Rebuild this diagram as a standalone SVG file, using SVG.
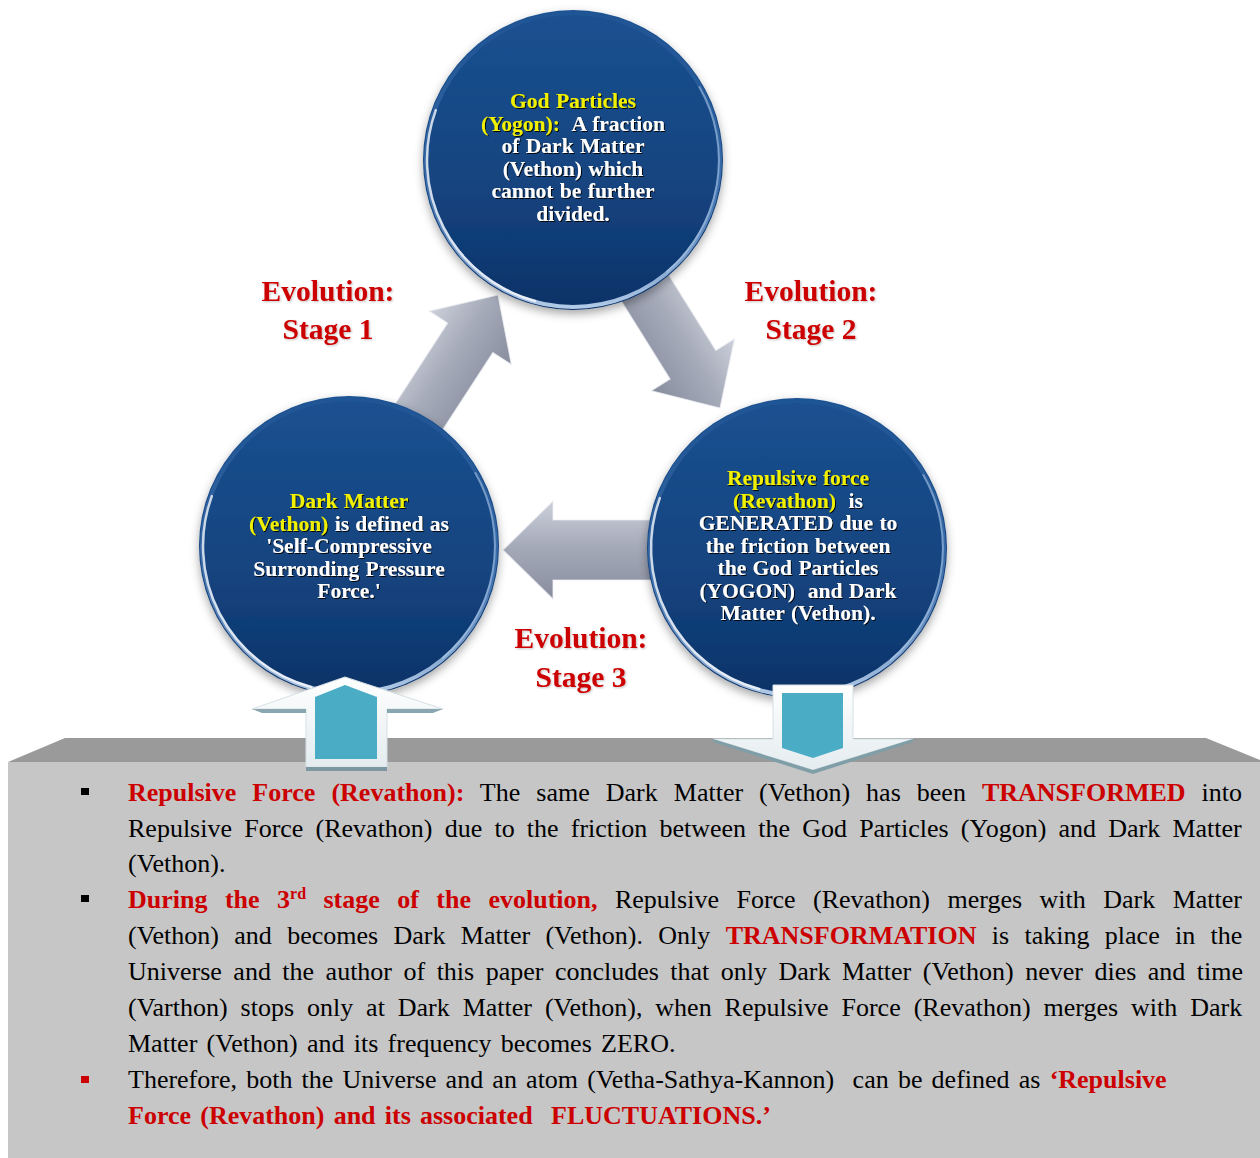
<svg xmlns="http://www.w3.org/2000/svg" xmlns:xlink="http://www.w3.org/1999/xlink" width="1260" height="1158" viewBox="0 0 1260 1158">
<defs>
<style>
.ct{font-family:"Liberation Serif","Times New Roman",serif;font-weight:bold;font-size:21.5px;fill:#ffffff;text-anchor:middle;word-spacing:1px}
.y{fill:#f0f000}
.evo{font-family:"Liberation Serif","Times New Roman",serif;font-weight:bold;font-size:29.5px;fill:#cc0000;text-anchor:middle}
.bt{font-family:"Liberation Serif","Times New Roman",serif;font-size:26px;fill:#000000}
.r{fill:#cc0000;font-weight:bold}
.garrow{fill:url(#gArrow);stroke:#eef0f5;stroke-width:1.2;stroke-opacity:0.7}
</style>
<linearGradient id="ballFill" x1="0" y1="0" x2="0" y2="1">
<stop offset="0" stop-color="#1b5191"/>
<stop offset="0.6" stop-color="#14437e"/>
<stop offset="1" stop-color="#0c3268"/>
</linearGradient>
<linearGradient id="rimGrad" x1="0" y1="0" x2="0" y2="1">
<stop offset="0" stop-color="#2a5e9e" stop-opacity="0.3"/>
<stop offset="0.6" stop-color="#5d8fcc" stop-opacity="0.6"/>
<stop offset="1" stop-color="#c4dbf5" stop-opacity="0.9"/>
</linearGradient>
<linearGradient id="gArrow" x1="0" y1="0" x2="0" y2="1">
<stop offset="0" stop-color="#ccd0da"/>
<stop offset="0.45" stop-color="#a6abba"/>
<stop offset="1" stop-color="#878d9d"/>
</linearGradient>
<linearGradient id="ioHead" x1="0" y1="0" x2="0" y2="1">
<stop offset="0" stop-color="#ffffff"/>
<stop offset="1" stop-color="#e4ecef"/>
</linearGradient>
<filter id="shadow" x="-20%" y="-20%" width="140%" height="140%">
<feDropShadow dx="0" dy="4" stdDeviation="5" flood-color="#000000" flood-opacity="0.35"/>
</filter>
<filter id="ts" x="-5%" y="-20%" width="110%" height="140%">
<feDropShadow dx="1" dy="1" stdDeviation="0.7" flood-color="#000000" flood-opacity="0.9"/>
</filter>
<filter id="ls" x="-5%" y="-20%" width="110%" height="140%">
<feDropShadow dx="1" dy="1" stdDeviation="1" flood-color="#000000" flood-opacity="0.25"/>
</filter>
<g id="ball">
<circle r="150" fill="url(#ballFill)"/>
<circle r="147" fill="none" stroke="url(#rimGrad)" stroke-width="4"/>
<path d="M-37.8,141 A146,146 0 0 1 -137.2,-49.9" fill="none" stroke="#ffffff" stroke-width="2.5" stroke-opacity="0.75" stroke-linecap="round"/>
<path d="M126.4,-73 A146,146 0 0 1 93.8,111.8" fill="none" stroke="#bcd5f2" stroke-width="2" stroke-opacity="0.5" stroke-linecap="round"/>
</g>
</defs>
<rect width="1260" height="1158" fill="#ffffff"/>

<g id="connectors-cycle">
<path class="garrow" transform="translate(498,295) rotate(-57)" d="M0,0 L-51,-49 L-51,-27 L-165,-27 L-165,27 L-51,27 L-51,49 Z"/>
<path class="garrow" transform="translate(720,408) rotate(58)" d="M0,0 L-51,-49 L-51,-27 L-165,-27 L-165,27 L-51,27 L-51,49 Z"/>
<path class="garrow" d="M503,550 L553,501 L553,520 L680,520 L680,580 L553,580 L553,599 Z"/>
</g>

<g id="node-top">
<use xlink:href="#ball" href="#ball" transform="translate(573,160)" filter="url(#shadow)"/>
<g class="ct" filter="url(#ts)">
<text x="573" y="108"><tspan class="y">God Particles</tspan></text>
<text x="573" y="130.5"><tspan class="y">(Yogon):</tspan>&#160; A fraction</text>
<text x="573" y="153">of Dark Matter</text>
<text x="573" y="175.5">(Vethon) which</text>
<text x="573" y="198">cannot be further</text>
<text x="573" y="220.5">divided.</text>
</g>
</g>

<g id="node-left">
<use xlink:href="#ball" href="#ball" transform="translate(349,546)" filter="url(#shadow)"/>
<g class="ct" filter="url(#ts)">
<text x="349" y="508"><tspan class="y">Dark Matter</tspan></text>
<text x="349" y="530.5"><tspan class="y">(Vethon)</tspan> is defined as</text>
<text x="349" y="552.5">'Self-Compressive</text>
<text x="349" y="575.5">Surronding Pressure</text>
<text x="349" y="598">Force.'</text>
</g>
</g>

<g id="node-right">
<use xlink:href="#ball" href="#ball" transform="translate(797,548)" filter="url(#shadow)"/>
<g class="ct" filter="url(#ts)">
<text x="798" y="485"><tspan class="y">Repulsive force</tspan></text>
<text x="798" y="507.5"><tspan class="y">(Revathon)</tspan>&#160; is</text>
<text x="798" y="530">GENERATED due to</text>
<text x="798" y="552.5">the friction between</text>
<text x="798" y="575">the God Particles</text>
<text x="798" y="597.5">(YOGON)&#160; and Dark</text>
<text x="798" y="620">Matter (Vethon).</text>
</g>
</g>

<g id="labels" class="evo" filter="url(#ls)">
<text x="328" y="300.5">Evolution:</text>
<text x="328" y="338.5">Stage 1</text>
<text x="811" y="300.5">Evolution:</text>
<text x="811" y="338.5">Stage 2</text>
<text x="581" y="648">Evolution:</text>
<text x="581" y="687">Stage 3</text>
</g>

<g id="node-box">
<polygon points="8,762 65,738 1206,738 1260,760 1260,762" fill="#9a9a9a"/>
<rect x="8" y="762" width="1252" height="396" fill="#c6c6c6"/>
<rect x="81" y="788" width="8" height="7" fill="#000000"/>
<rect x="81" y="895" width="8" height="7" fill="#000000"/>
<rect x="81" y="1076" width="8" height="7" fill="#cc0000"/>
<text class="bt" x="128" y="801" word-spacing="9.53"><tspan class="r">Repulsive Force (Revathon):</tspan> The same Dark Matter (Vethon) has been <tspan class="r">TRANSFORMED</tspan> into</text>
<text class="bt" x="128" y="837" word-spacing="5.68">Repulsive Force (Revathon) due to the friction between the God Particles (Yogon) and Dark Matter</text>
<text class="bt" x="128" y="872">(Vethon).</text>
<text class="bt" x="128" y="908" word-spacing="10.95"><tspan class="r">During the 3<tspan font-size="16" dy="-9">rd</tspan><tspan dy="9"> stage of the evolution,</tspan></tspan> Repulsive Force (Revathon) merges with Dark Matter</text>
<text class="bt" x="128" y="944" word-spacing="8.84">(Vethon) and becomes Dark Matter (Vethon). Only <tspan class="r">TRANSFORMATION</tspan> is taking place in the</text>
<text class="bt" x="128" y="980" word-spacing="4.98">Universe and the author of this paper concludes that only Dark Matter (Vethon) never dies and time</text>
<text class="bt" x="128" y="1016" word-spacing="6.43">(Varthon) stops only at Dark Matter (Vethon), when Repulsive Force (Revathon) merges with Dark</text>
<text class="bt" x="128" y="1052" word-spacing="2.8">Matter (Vethon) and its frequency becomes ZERO.</text>
<text class="bt" x="128" y="1088" word-spacing="2.7">Therefore, both the Universe and an atom (Vetha-Sathya-Kannon)&#160; can be defined as <tspan class="r">‘Repulsive</tspan></text>
<text class="bt" x="128" y="1124" word-spacing="2.7"><tspan class="r">Force (Revathon) and its associated&#160; FLUCTUATIONS.’</tspan></text>
</g>

<g id="connectors-io">
<g id="arrow-up">
<polygon points="345,677 443,709 387,709 387,767 306,767 306,709 252,709" fill="url(#ioHead)" stroke="#d6e0e4" stroke-width="1"/>
<polygon points="252,709 306,709 306,713 262,713" fill="#8aa7b1"/>
<polygon points="387,709 443,709 433,713 387,713" fill="#8aa7b1"/>
<rect x="306" y="767" width="81" height="4" fill="#7b97a1"/>
<polygon points="315,759 315,697 345,685 377,697 377,759" fill="#4bacc6"/>
</g>
<g id="arrow-down">
<polygon points="773,685 853,685 853,739 913,739 813,770 713,739 773,739" fill="url(#ioHead)" stroke="#d6e0e4" stroke-width="1"/>
<polygon points="713,739 813,770 913,739 913,742 813,774 713,742" fill="#7f9ea8"/>
<polygon points="782,693 843,693 843,748 813,758 782,748" fill="#4bacc6"/>
</g>
</g>
</svg>
